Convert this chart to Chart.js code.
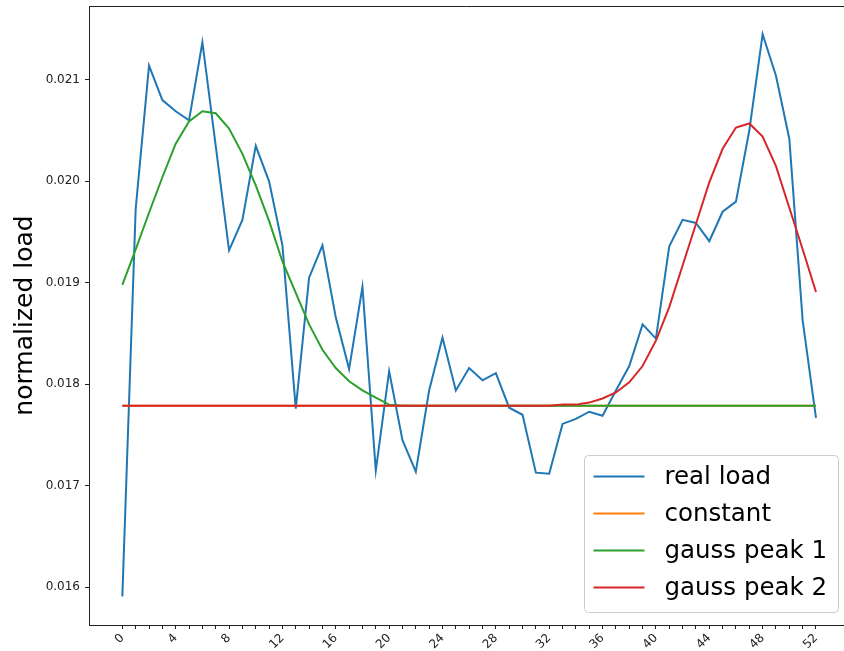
<!DOCTYPE html>
<html>
<head>
<meta charset="utf-8">
<script src="https://cdn.jsdelivr.net/npm/chart.js@4"></script>
<style>
body { margin: 0; background: #fff; }
canvas { display: block; }
</style>
</head>
<body>
<canvas id="load-chart" width="844" height="651"></canvas>
<script>
let realLoad = [
    0.01591, 0.01973, 0.02114, 0.02080, 0.02069, 0.02060, 0.02137, 0.02035, 0.01932, 0.01962,
    0.02035, 0.02000, 0.01937, 0.01776, 0.01905, 0.01937, 0.01866, 0.01815, 0.01896, 0.01715,
    0.01813, 0.01745, 0.01714, 0.01794, 0.01846, 0.01794, 0.01816, 0.01804, 0.01811, 0.01777,
    0.01770, 0.01713, 0.01712, 0.01761, 0.01766, 0.01773, 0.01769, 0.01794, 0.01818, 0.01859,
    0.01845, 0.01936, 0.01962, 0.01959, 0.01941, 0.01970, 0.01980, 0.02050, 0.02145, 0.02104,
    0.02042, 0.01863, 0.01767
];
let constant = [
    0.01779, 0.01779, 0.01779, 0.01779, 0.01779, 0.01779, 0.01779, 0.01779, 0.01779, 0.01779,
    0.01779, 0.01779, 0.01779, 0.01779, 0.01779, 0.01779, 0.01779, 0.01779, 0.01779, 0.01779,
    0.01779, 0.01779, 0.01779, 0.01779, 0.01779, 0.01779, 0.01779, 0.01779, 0.01779, 0.01779,
    0.01779, 0.01779, 0.01779, 0.01779, 0.01779, 0.01779, 0.01779, 0.01779, 0.01779, 0.01779,
    0.01779, 0.01779, 0.01779, 0.01779, 0.01779, 0.01779, 0.01779, 0.01779, 0.01779, 0.01779,
    0.01779, 0.01779, 0.01779
];
let gaussPeak1 = [
    0.01898, 0.01933, 0.01969, 0.02004, 0.02037, 0.02059, 0.02069, 0.02067, 0.02052, 0.02027,
    0.01996, 0.01961, 0.01921, 0.01890, 0.01859, 0.01834, 0.01816, 0.01803, 0.01794, 0.01787,
    0.01780, 0.01779, 0.01779, 0.01779, 0.01779, 0.01779, 0.01779, 0.01779, 0.01779, 0.01779,
    0.01779, 0.01779, 0.01779, 0.01779, 0.01779, 0.01779, 0.01779, 0.01779, 0.01779, 0.01779,
    0.01779, 0.01779, 0.01779, 0.01779, 0.01779, 0.01779, 0.01779, 0.01779, 0.01779, 0.01779,
    0.01779, 0.01779, 0.01779
];
let gaussPeak2 = [
    0.01779, 0.01779, 0.01779, 0.01779, 0.01779, 0.01779, 0.01779, 0.01779, 0.01779, 0.01779,
    0.01779, 0.01779, 0.01779, 0.01779, 0.01779, 0.01779, 0.01779, 0.01779, 0.01779, 0.01779,
    0.01779, 0.01779, 0.01779, 0.01779, 0.01779, 0.01779, 0.01779, 0.01779, 0.01779, 0.01779,
    0.01779, 0.01779, 0.01779, 0.01780, 0.01780, 0.01782, 0.01786, 0.01792, 0.01802, 0.01818,
    0.01843, 0.01876, 0.01917, 0.01958, 0.01999, 0.02032, 0.02053, 0.02057, 0.02044, 0.02015,
    0.01974, 0.01933, 0.01891
];

let xTickLabels = [0, 4, 8, 12, 16, 20, 24, 28, 32, 36, 40, 44, 48, 52];
let yTickLabels = [0.016, 0.017, 0.018, 0.019, 0.020, 0.021];

function toPoints(values) {
    return values.map(function (v, i) {
        return {x: i, y: v};
    });
}

// legend drawn inside the plot, lower right like matplotlib
let insideLegend = {
    id: 'insideLegend',
    afterDraw: function (chart) {
        let ctx = chart.ctx;
        let area = chart.chartArea;
        let right = area.right - 5.5;
        let bottom = area.bottom - 12.5;
        let w = 254, h = 157;
        ctx.save();
        ctx.beginPath();
        ctx.roundRect(right - w, bottom - h, w, h, 4);
        ctx.fillStyle = 'rgba(255,255,255,0.8)';
        ctx.fill();
        ctx.strokeStyle = '#cccccc';
        ctx.lineWidth = 1;
        ctx.stroke();

        ctx.font = '24.5px "DejaVu Sans"';
        ctx.textBaseline = 'middle';
        chart.data.datasets.forEach(function (ds, k) {
            let y = bottom - h + 21 + k * 37;
            let x0 = right - w + 9;
            ctx.beginPath();
            ctx.moveTo(x0, y);
            ctx.lineTo(x0 + 51, y);
            ctx.strokeStyle = ds.borderColor;
            ctx.lineWidth = 2;
            ctx.stroke();
            ctx.fillStyle = '#000';
            ctx.fillText(ds.label, x0 + 71, y + 1);
        });

        // top spine
        ctx.beginPath();
        ctx.moveTo(area.left, area.top + 0.5);
        ctx.lineTo(area.right, area.top + 0.5);
        ctx.strokeStyle = '#222';
        ctx.lineWidth = 1;
        ctx.stroke();
        ctx.restore();
    }
};

Chart.defaults.font.family = '"DejaVu Sans"';
Chart.defaults.color = '#222';

new Chart(document.getElementById('load-chart'), {
    type: 'line',
    data: {
        datasets: [{
            label: 'real load',
            data: toPoints(realLoad),
            borderColor: '#1f77b4',
            order: 4
        }, {
            label: 'constant',
            data: toPoints(constant),
            borderColor: '#ff7f0e',
            order: 3
        }, {
            label: 'gauss peak 1',
            data: toPoints(gaussPeak1),
            borderColor: '#2ca02c',
            order: 2
        }, {
            label: 'gauss peak 2',
            data: toPoints(gaussPeak2),
            borderColor: '#d62728',
            order: 1
        }]
    },
    options: {
        responsive: false,
        animation: false,
        devicePixelRatio: 1,
        layout: {padding: {top: 6, left: 0, right: 0, bottom: 0}},
        elements: {
            point: {radius: 0},
            line: {borderWidth: 2, tension: 0, fill: false}
        },
        plugins: {
            legend: {display: false},
            tooltip: {enabled: false}
        },
        scales: {
            x: {
                type: 'linear',
                min: -2.5,
                max: 54.1,
                afterBuildTicks: function (axis) {
                    axis.ticks = realLoad.map(function (v, i) {
                        return {value: i};
                    });
                },
                afterFit: function (axis) {
                    axis.height = 26;
                    axis.paddingLeft = 0;
                    axis.paddingRight = 0;
                },
                grid: {display: true, drawOnChartArea: false, drawTicks: true, tickLength: 4, color: '#222'},
                border: {display: true, color: '#222', width: 1},
                ticks: {
                    autoSkip: false,
                    minRotation: 45,
                    maxRotation: 45,
                    padding: 2,
                    font: {size: 12},
                    callback: function (value) {
                        return xTickLabels.indexOf(value) >= 0 ? String(value) : '';
                    }
                }
            },
            y: {
                type: 'linear',
                min: 0.015629,
                max: 0.021727,
                afterBuildTicks: function (axis) {
                    axis.ticks = yTickLabels.map(function (v) {
                        return {value: v};
                    });
                },
                afterFit: function (axis) {
                    axis.width = 89;
                    axis.paddingTop = 0;
                    axis.paddingBottom = 0;
                },
                grid: {display: true, drawOnChartArea: false, drawTicks: true, tickLength: 4, color: '#222'},
                border: {display: true, color: '#222', width: 1},
                ticks: {
                    padding: 5,
                    font: {size: 12},
                    callback: function (value) {
                        return value.toFixed(3);
                    }
                },
                title: {
                    display: true,
                    text: 'normalized load',
                    color: '#000',
                    font: {size: 25},
                    padding: {top: 10, bottom: 0}
                }
            }
        }
    },
    plugins: [insideLegend]
});
</script>
</body>
</html>
